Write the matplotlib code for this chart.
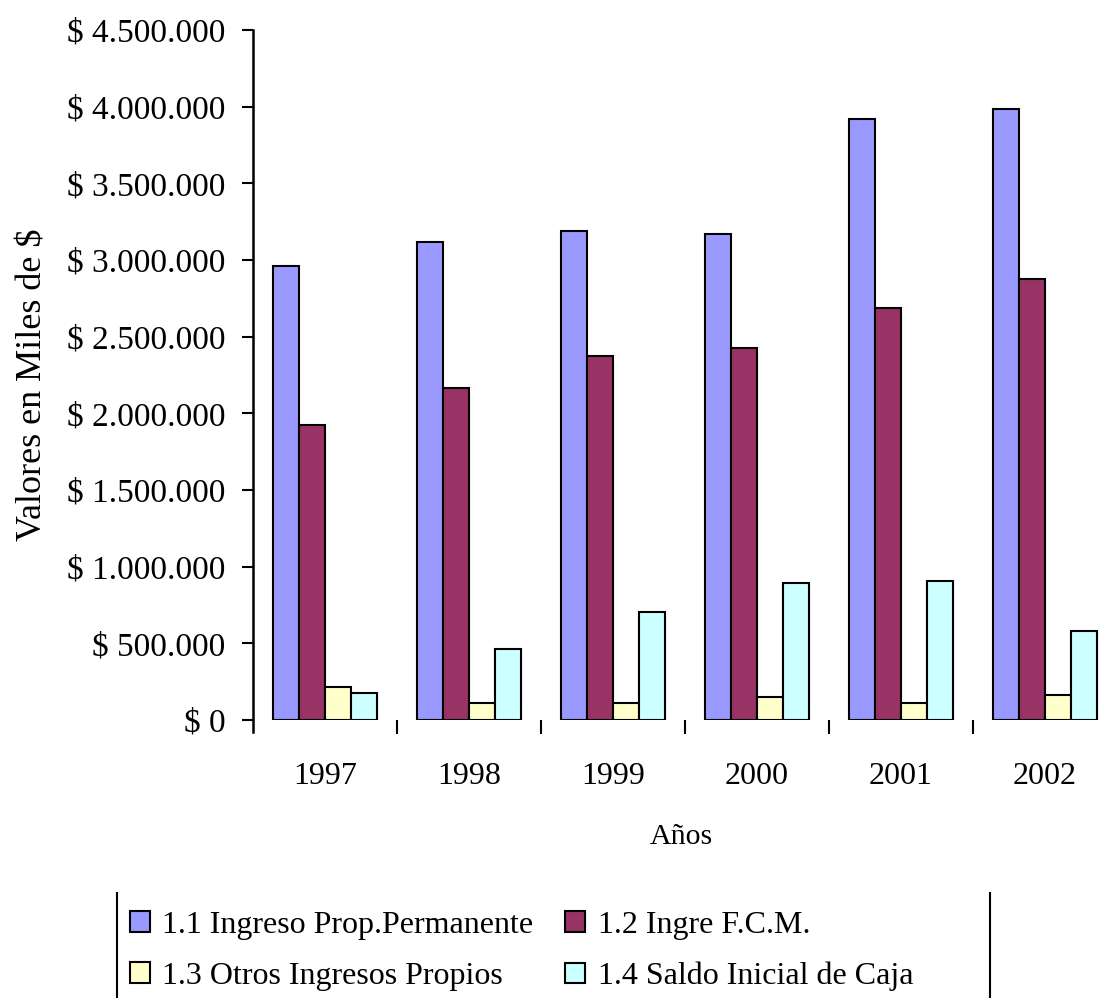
import numpy as np
import matplotlib.pyplot as plt
from matplotlib.lines import Line2D

plt.rcParams['font.family'] = ['Liberation Serif', 'DejaVu Serif']

years = ["1997", "1998", "1999", "2000", "2001", "2002"]
ingreso_prop = [2962000, 3118000, 3188000, 3170000, 3918000, 3988000]
ingre_fcm = [1923000, 2166000, 2373000, 2427000, 2684000, 2877000]
otros_ingresos = [217000, 109000, 109000, 148000, 109000, 163000]
saldo_inicial = [178000, 461000, 704000, 891000, 908000, 582000]

series = [
    ("1.1 Ingreso Prop.Permanente", ingreso_prop, "#9999FF"),
    ("1.2 Ingre F.C.M.", ingre_fcm, "#993366"),
    ("1.3 Otros Ingresos Propios", otros_ingresos, "#FFFFCC"),
    ("1.4 Saldo Inicial de Caja", saldo_inicial, "#CCFFFF"),
]

fig = plt.figure(figsize=(11.1, 9.98), dpi=100)
ax = fig.add_axes([253 / 1110, 1 - 720 / 998, 857 / 1110, 690 / 998])

x = np.arange(len(years))
w = 0.18
bars = []
for i, (name, vals, col) in enumerate(series):
    b = ax.bar(x + (i - 1.5) * w, vals, w, color=col, edgecolor="black",
               linewidth=1.5, label=name)
    bars.append(b)

ax.set_xlim(-0.5, -0.5 + 857 / 144)
ax.set_ylim(0, 4500000)
yt = np.arange(0, 4500001, 500000)
ax.set_yticks(yt)
ax.set_yticklabels(["$ " + f"{v:,}".replace(",", ".") for v in yt], fontsize=24)
ax.tick_params(axis="y", length=8, width=1.5, pad=12)

ax.set_xticks(x)
ax.set_xticklabels(years, fontsize=23)
ax.set_xticks(x[:-1] + 0.5, minor=True)
ax.tick_params(axis="x", which="major", length=0, pad=30)
ax.tick_params(axis="x", which="minor", length=10, width=1.5)

for s in ["top", "right", "bottom"]:
    ax.spines[s].set_visible(False)
ax.spines["left"].set_linewidth(1.8)
ax.spines["left"].set_bounds(-75000, 4500000)

ax.set_xlabel("Años", fontsize=21.5, labelpad=24)
ax.set_ylabel("Valores en Miles de $", fontsize=26)
ax.yaxis.set_label_coords(-0.238, 0.486)

handles = [bars[0], bars[2], bars[1], bars[3]]
labels = [series[0][0], series[2][0], series[1][0], series[3][0]]
fig.legend(handles, labels, loc="upper left", bbox_to_anchor=(130 / 1110, 1 - 911 / 998),
           ncol=2, frameon=False, fontsize=23, borderpad=0, borderaxespad=0,
           handlelength=0.63, handleheight=0.63, handletextpad=0.38,
           columnspacing=1.0, labelspacing=0.68)

fig.add_artist(Line2D([117 / 1110, 117 / 1110], [0, 1 - 893 / 998], color="black", lw=1.5))
fig.add_artist(Line2D([990 / 1110, 990 / 1110], [0, 1 - 893 / 998], color="black", lw=1.5))

fig.savefig("out.png", dpi=100)
